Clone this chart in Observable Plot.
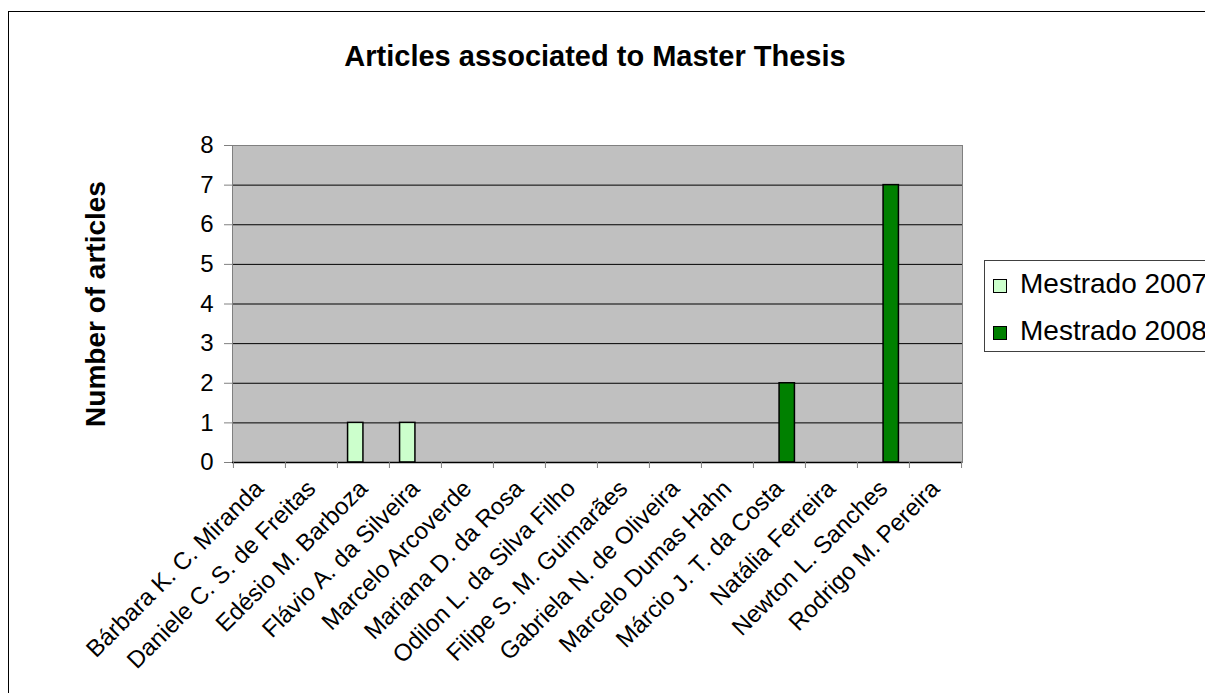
<!DOCTYPE html>
<html>
<head>
<meta charset="utf-8">
<script src="https://cdn.jsdelivr.net/npm/d3@7"></script>
<script src="https://cdn.jsdelivr.net/npm/@observablehq/plot@0.6"></script>
<style>
  html, body { margin: 0; padding: 0; background: #fff; overflow: hidden; width: 1205px; height: 693px; }
  #wrap { position: relative; width: 1205px; height: 693px; font-family: "Liberation Sans", Arial, sans-serif; }
  #border { position: absolute; left: 8px; top: 11px; width: 1400px; height: 900px; border: 1px solid #000; box-sizing: border-box; }
  #title { position: absolute; left: 0; top: 42px; width: 1190px; text-align: center; font-weight: bold; font-size: 29px; line-height: 29px; color: #000; }
  #chart { position: absolute; left: 0; top: 0; }
  #legend { position: absolute; left: 984px; top: 260px; width: 400px; height: 92px; border: 1px solid #404040; box-sizing: border-box; background: #fff; }
  .lg-sw { position: absolute; width: 14px; height: 14px; border: 1px solid #000; box-sizing: border-box; }
  .lg-tx { position: absolute; font-size: 28px; line-height: 32px; white-space: nowrap; color: #000; }
</style>
</head>
<body>
<div id="wrap">
  <div id="border"></div>
  <div id="chart"></div>
  <div id="title"></div>
  <div id="legend"></div>
</div>
<script>
const title = "Articles associated to Master Thesis";
const yLabel = "Number of articles";
const categories = [
  "Bárbara K. C. Miranda",
  "Daniele C. S. de Freitas",
  "Edésio M. Barboza",
  "Flávio A. da Silveira",
  "Marcelo Arcoverde",
  "Mariana D. da Rosa",
  "Odilon L. da Silva Filho",
  "Filipe S. M. Guimarães",
  "Gabriela N. de Oliveira",
  "Marcelo Dumas Hahn",
  "Márcio J. T. da Costa",
  "Natália Ferreira",
  "Newton L. Sanches",
  "Rodrigo M. Pereira"
];
const seriesNames = ["Mestrado 2007", "Mestrado 2008"];
const values2007 = [0, 0, 1, 1, 0, 0, 0, 0, 0, 0, 0, 0, 0, 0];
const values2008 = [0, 0, 0, 0, 0, 0, 0, 0, 0, 0, 2, 0, 7, 0];
const seriesColors = ["#CCFFCC", "#008000"];
const yTicks = [0, 1, 2, 3, 4, 5, 6, 7, 8];

const W = 1205, H = 693;
const mL = 232, mR = 243, mT = 145, mB = 231;
const bw = (W - mL - mR) / categories.length;
const barW = 15.5;

const rows2007 = categories.map((name, i) => ({name, series: seriesNames[0], value: values2007[i]})).filter(d => d.value > 0);
const rows2008 = categories.map((name, i) => ({name, series: seriesNames[1], value: values2008[i]})).filter(d => d.value > 0);

document.getElementById("title").textContent = title;

const chart = Plot.plot({
  width: W,
  height: H,
  marginLeft: mL,
  marginRight: mR,
  marginTop: mT,
  marginBottom: mB,
  style: {fontFamily: "'Liberation Sans', Arial, sans-serif", fontSize: "24px", background: "transparent", overflow: "visible", color: "#000"},
  x: {type: "band", domain: categories, padding: 0},
  y: {domain: [0, 8], range: [H - mB, mT]},
  marks: [
    Plot.frame({fill: "#C0C0C0", stroke: null}),
    Plot.ruleY(yTicks.filter(t => t > 0 && t < 8), {stroke: "#000", strokeWidth: 1}),
    Plot.barY(rows2007, {x: "name", y: "value", fill: seriesColors[0], stroke: "#000", strokeWidth: 1.5,
      insetLeft: bw / 2 - barW, insetRight: bw / 2}),
    Plot.barY(rows2008, {x: "name", y: "value", fill: seriesColors[1], stroke: "#000", strokeWidth: 1.5,
      insetLeft: bw / 2, insetRight: bw / 2 - barW}),
    Plot.frame({stroke: "#808080", strokeWidth: 1}),
    Plot.ruleY([0], {stroke: "#000", strokeWidth: 1.5}),
    Plot.axisY({ticks: yTicks, tickSize: 8, tickPadding: 11, fontSize: 24, stroke: "#808080", fill: "#000", label: null, tickFormat: d => String(d)}),
    Plot.axisX({ticks: categories, tickSize: 6, tickFormat: () => "", dx: -bw / 2, stroke: "#808080", label: null}),
    Plot.axisX({ticks: [categories[categories.length - 1]], tickSize: 6, tickFormat: () => "", dx: bw / 2, stroke: "#808080", label: null}),
    Plot.axisX({ticks: categories, tickSize: 0, tickPadding: 22, tickRotate: -45, fontSize: 24, fill: "#000", label: null}),
    Plot.text([yLabel], {text: d => d, frameAnchor: "left", dx: -136, rotate: -90, fontWeight: "bold", fontSize: 28, lineAnchor: "middle", textAnchor: "middle", fill: "#000"})
  ]
});
document.getElementById("chart").appendChild(chart);

const legend = document.getElementById("legend");
seriesNames.forEach((name, i) => {
  const sw = document.createElement("div");
  sw.className = "lg-sw";
  sw.style.left = (993 - 984 - 1) + "px";
  sw.style.top = (279 - 260 - 1 + i * 47) + "px";
  sw.style.background = seriesColors[i];
  legend.appendChild(sw);
  const tx = document.createElement("div");
  tx.className = "lg-tx";
  tx.style.left = (1020 - 984 - 1) + "px";
  tx.style.top = (268 - 260 - 1 + i * 47) + "px";
  tx.textContent = name;
  legend.appendChild(tx);
});
</script>
</body>
</html>
